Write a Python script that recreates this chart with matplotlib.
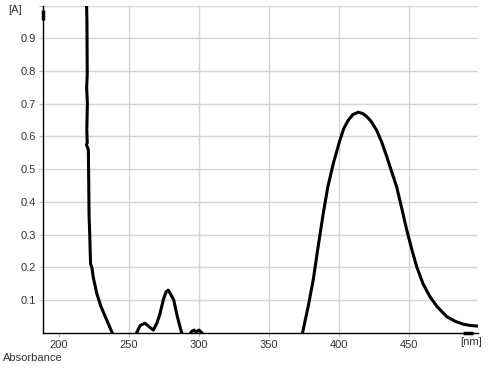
import numpy as np
import matplotlib.pyplot as plt

# spectrum: wavelength [nm], absorbance [A]
wavelength = [205, 215, 219.5, 220.0, 220.2, 219.8, 220.3, 219.9, 220.2, 219.6,
              221.0, 221.3, 221.5, 222.0, 222.3, 222.6, 223.5, 224.5, 225.5,
              227.0, 228.5, 230.0, 232.0, 234.0, 236.0, 238.0, 242.0, 248.0,
              253.0, 255.5, 258.0, 261.4, 264.0, 267.4, 270.0, 272.0, 274.5,
              276.5, 278.0, 279.5, 282.0, 284.5, 287.6, 291.0, 294.8, 296.5,
              298.0, 300.0, 302.0, 306.0, 320.0, 340.0, 360.0, 370.0, 374.0,
              378.0, 381.6, 385.0, 388.8, 392.0, 396.0, 400.7, 403.5, 406.7,
              410.0, 413.8, 417.0, 419.8, 423.0, 427.0, 430.5, 434.0, 437.5,
              441.2, 444.8, 448.4, 452.0, 455.5, 460.0, 465.0, 470.0, 477.0,
              483.0, 488.8, 494.0, 499.5]
absorbance = [1.60, 1.30, 1.05, 0.95, 0.79, 0.75, 0.70, 0.62, 0.58, 0.575,
              0.56, 0.45, 0.36, 0.30, 0.25, 0.21, 0.20, 0.17, 0.15,
              0.12, 0.10, 0.08, 0.06, 0.04, 0.02, 0.00, -0.03, -0.05,
              -0.03, 0.00, 0.022, 0.029, 0.020, 0.008, 0.030, 0.055, 0.100,
              0.125, 0.130, 0.120, 0.100, 0.050, 0.000, -0.02, 0.004, 0.008,
              0.002, 0.008, 0.000, -0.03, -0.06, -0.06, -0.05, -0.03, 0.000,
              0.080, 0.161, 0.260, 0.365, 0.445, 0.518, 0.589, 0.625, 0.650,
              0.667, 0.674, 0.670, 0.661, 0.646, 0.618, 0.583, 0.540, 0.494,
              0.446, 0.381, 0.314, 0.255, 0.202, 0.150, 0.110, 0.080, 0.049,
              0.035, 0.026, 0.022, 0.020]

xticks = [200, 250, 300, 350, 400, 450]
yticks = [0.1, 0.2, 0.3, 0.4, 0.5, 0.6, 0.7, 0.8, 0.9]

plt.rcParams['font.family'] = ['Liberation Sans', 'DejaVu Sans']

fig = plt.figure(figsize=(4.89, 3.70), dpi=100)
ax = fig.add_axes([0.0879, 0.1008, 0.8896, 0.8841])

ax.plot(wavelength, absorbance, color='black', linewidth=2.2, solid_joinstyle='round', zorder=3)

ax.set_xlim(188.6, 499.3)
ax.set_ylim(0, 1.0)
ax.set_xticks(xticks)
ax.set_xticklabels([str(t) for t in xticks])
ax.set_yticks(yticks + [1.0])
ax.set_yticklabels([f"{t:.1f}" for t in yticks] + [""])

ax.grid(True, color='#d4d4d4', linewidth=1.0)
ax.get_xgridlines()[0].set_visible(False)
ax.set_axisbelow(True)

for side in ['top', 'right']:
    ax.spines[side].set_visible(False)
ax.spines['left'].set_linewidth(1.0)
ax.spines['bottom'].set_linewidth(1.0)
ax.tick_params(axis='both', length=3, width=0.8, color='#bbbbbb', labelsize=8,
               labelcolor='#333333', pad=2)

# axis arrows
ax.plot([0, 0], [0.956, 0.987], transform=ax.transAxes, color='black',
        linewidth=2.5, clip_on=False, solid_capstyle='butt')
ax.plot([0.966, 0.989], [0.0, 0.0], transform=ax.transAxes, color='black',
        linewidth=2.5, clip_on=False, solid_capstyle='butt')

fig.text(8 / 489, 1 - 10 / 370, "[A]", fontsize=8, color='#333333', va='center', ha='left')
fig.text(471 / 489, 1 - 342 / 370, "[nm]", fontsize=8, color='#333333', va='center', ha='center')
fig.text(3 / 489, 1 - 358 / 370, "Absorbance", fontsize=8, color='#333333', va='center', ha='left')

fig.savefig("out.png", dpi=100)
